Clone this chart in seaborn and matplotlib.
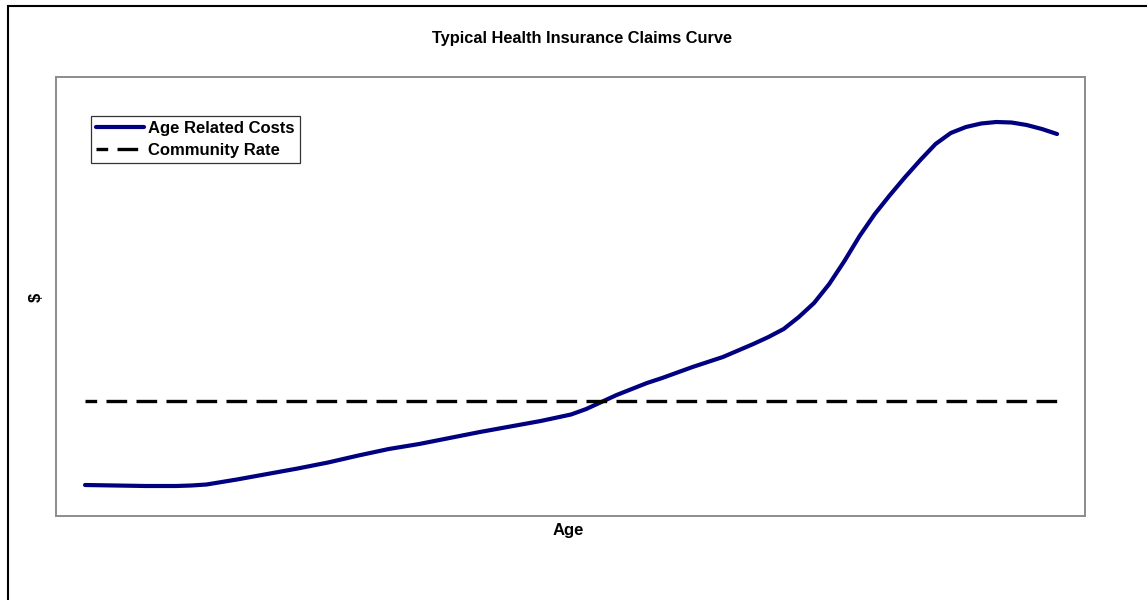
import matplotlib
matplotlib.use("Agg")
import matplotlib.pyplot as plt
import matplotlib.patches as mpatches
import seaborn as sns
import pandas as pd

# Claims cost by age (relative $ units) and the flat community rate
ages = [0, 2.5, 5, 7.5, 8.75, 10, 11.25, 12.5, 15, 17.5, 20, 22.5, 25, 27.5,
        30, 32.5, 35, 37.5, 40, 41.25, 42.5, 43.75, 45, 46.25, 47.5, 50, 52.5,
        55, 56.25, 57.5, 58.75, 60, 61.25, 62.5, 63.75, 65, 66.25, 67.5, 68.75,
        70, 71.25, 72.5, 73.75, 75, 76.25, 77.5, 78.75, 80]
age_related_costs = [31, 30.5, 30, 30, 30.5, 31.5, 34, 36.5, 42, 47.5, 53.5,
                     60.5, 67, 72, 78, 84, 89.5, 95, 101.5, 107, 114, 121, 127,
                     133, 138, 149, 159, 172, 179, 187, 199, 213, 232, 255, 280,
                     302, 321, 339, 356, 372, 383, 389, 392.5, 394, 393.5, 391,
                     387, 382]
community_rate = 115

title = "Typical Health Insurance Claims Curve"
x_label = "Age"
y_label = "$"
series_names = ["Age Related Costs", "Community Rate"]

sns.set_theme(style="white")
plt.rcParams["font.family"] = ["Liberation Sans", "DejaVu Sans"]
plt.rcParams["text.color"] = "black"

W, H = 1147, 600
fig = plt.figure(figsize=(W / 100, H / 100), dpi=100)
fig.patch.set_facecolor("white")

# plot area
left, right, top, bottom = 56, 1085, 77, 516
ax = fig.add_axes([left / W, 1 - bottom / H, (right - left) / W, (bottom - top) / H])

costs_df = pd.DataFrame({"age": ages, "cost": age_related_costs})
rate_df = pd.DataFrame({"age": [ages[0], ages[-1]],
                        "cost": [community_rate, community_rate]})

sns.lineplot(data=costs_df, x="age", y="cost", ax=ax, color="#000080",
             linewidth=3.0, label=series_names[0], solid_capstyle="round",
             solid_joinstyle="round")
sns.lineplot(data=rate_df, x="age", y="cost", ax=ax, color="black",
             linewidth=2.4, linestyle=(2.7, (6.2, 2.8)), label=series_names[1])

ax.set_xlim(-2.39, 82.3)
ax.set_ylim(0, 439)
ax.set_xticks([])
ax.set_yticks([])
ax.set_xlabel("")
ax.set_ylabel("")
for s in ax.spines.values():
    s.set_color("#8c8c8c")
    s.set_linewidth(1.4)
    s.set_visible(True)

leg = ax.legend(loc="upper left", bbox_to_anchor=(0.034, 0.911),
                borderaxespad=0, frameon=True, fancybox=False,
                handlelength=2.9, handletextpad=0.25, borderpad=0.3,
                labelspacing=0.4, prop={"weight": "bold", "size": 12},
                labelcolor="black")
leg.get_frame().set_edgecolor("black")
leg.get_frame().set_linewidth(0.9)

# titles and axis labels
fig.text(582 / W, 1 - 39 / H, title, ha="center", va="center",
         fontsize=11.8, fontweight="bold", color="black")
fig.text(568 / W, 1 - 531 / H, x_label, ha="center", va="center",
         fontsize=12, fontweight="bold", color="black")
fig.text(36 / W, 1 - 297 / H, y_label, ha="center", va="center",
         fontsize=12, fontweight="bold", rotation=90, color="black")

# outer chart border
fig.patches.append(mpatches.Rectangle((8 / W, -0.1), 2.0, 1.1 - 6 / H,
                                      transform=fig.transFigure, fill=False,
                                      edgecolor="black", linewidth=1.5))

fig.savefig("out.png", dpi=100, facecolor="white")
